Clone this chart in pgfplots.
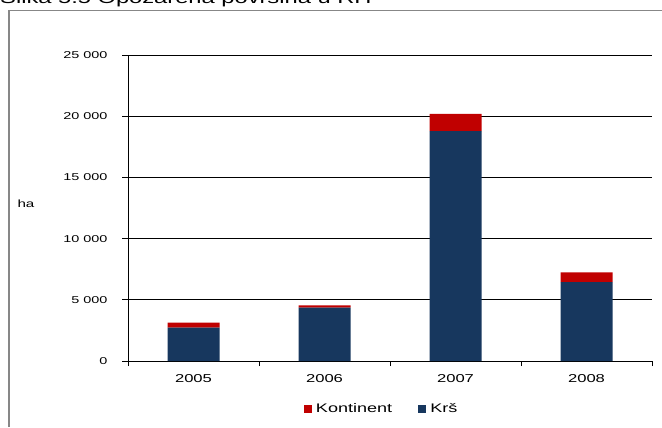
\documentclass[border=0pt]{standalone}
\usepackage{fontspec}
\setmainfont[FakeStretch=1.45]{Liberation Sans}
\usepackage{pgfplots}
\pgfplotsset{compat=1.18}
\definecolor{krs}{RGB}{23,55,94}
\definecolor{kont}{RGB}{192,0,0}
\definecolor{frame}{RGB}{135,135,135}
\begin{document}
\begin{tikzpicture}[x=1bp,y=1bp]
\useasboundingbox (0,0) rectangle (662,427);
% title, cut at the top as in the original
\node[anchor=base west, inner sep=0, font=\fontsize{16.4}{18}\selectfont] at (0,423) {Slika 5.5 Opožarena površina u RH};
\draw[frame, line width=1.3bp] (9,0) -- (9,416.5) -- (662,416.5);
\node[font=\fontsize{10.5}{12}\selectfont] at (26,223) {ha};
\begin{axis}[
    at={(128bp,66bp)}, anchor=south west,
    scale only axis,
    width=524bp, height=306bp,
    ybar stacked,
    bar width=52bp,
    xmin=0.5, xmax=4.5,
    ymin=0, ymax=25000,
    scaled y ticks=false,
    axis x line*=bottom,
    axis y line*=left,
    axis line style={black, line width=0.8bp, -},
    xtick={1,2,3,4},
    xticklabels={2005,2006,2007,2008},
    major x tick style={draw=none},
    minor xtick={0.5,1.5,2.5,3.5,4.5},
    minor x tick style={black, line width=0.6bp},
    minor tick length=5bp,
    ytick={0,5000,10000,15000,20000,25000},
    yticklabels={0,5 000,10 000,15 000,20 000,25 000},
    major y tick style={black, line width=0.8bp},
    major tick length=6bp,
    tick align=outside,
    ymajorgrids=true,
    grid style={black, line width=0.8bp},
    xticklabel style={font=\fontsize{11.5}{13}\selectfont, yshift=-4bp},
    yticklabel style={font=\fontsize{10}{12}\selectfont, xshift=-11bp},
    reverse legend,
    legend columns=2,
    legend style={at={(0.486,-0.157)}, anchor=center, draw=none,
        font=\fontsize{12.5}{14}\selectfont,
        nodes={inner xsep=4bp},
        /tikz/every even column/.append style={column sep=22bp}},
    legend image code/.code={\fill[#1] (0bp,-4bp) rectangle (8bp,4bp);},
]
\addplot[fill=krs, draw=none] coordinates {(1,2720) (2,4360) (3,18790) (4,6450)};
\addlegendentry{Krš}
\addplot[fill=kont, draw=none] coordinates {(1,410) (2,190) (3,1390) (4,800)};
\addlegendentry{Kontinent}
\end{axis}
\end{tikzpicture}
\end{document}
